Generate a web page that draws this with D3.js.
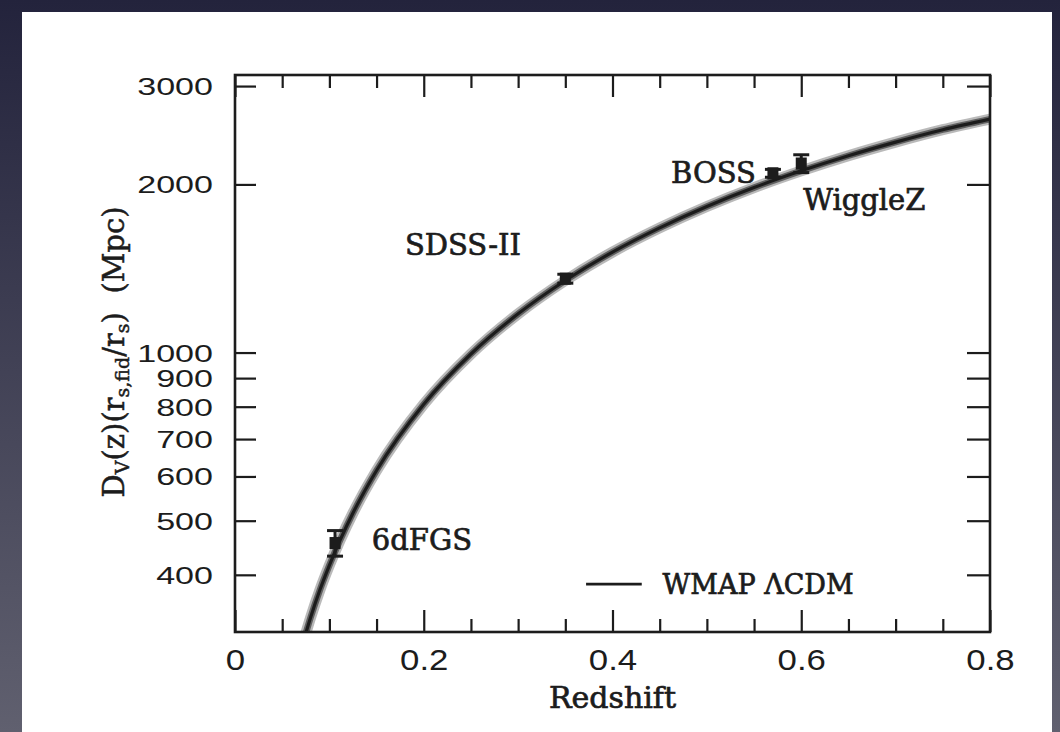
<!DOCTYPE html>
<html>
<head>
<meta charset="utf-8">
<script src="https://cdn.jsdelivr.net/npm/d3@7"></script>
<style>
  html, body { margin: 0; padding: 0; }
  body { width: 1060px; height: 732px; overflow: hidden; }
  svg { display: block; }
</style>
</head>
<body>
<svg id="chart" width="1060" height="732"></svg>
<script>
// WMAP LCDM prediction of D_V(z) (Mpc)
const modelZ  = [0.07, 0.08, 0.09, 0.10, 0.125, 0.15, 0.20, 0.25, 0.30, 0.35, 0.40, 0.45, 0.50, 0.55, 0.60, 0.65, 0.70, 0.75, 0.80];
const modelDv = [294, 335, 376, 416, 516, 615, 808, 994, 1173, 1346, 1513, 1672, 1826, 1974, 2115, 2251, 2381, 2506, 2618];

// BAO measurements
const surveys   = ["6dFGS", "SDSS-II", "BOSS", "WiggleZ"];
const surveyZ   = [0.106, 0.35, 0.57, 0.60];
const surveyDv  = [456, 1356, 2094, 2180];
const surveyErr = [24, 25, 34, 80];

// axis ticks
const xMajorTicks = [0, 0.2, 0.4, 0.6, 0.8];
const xMinorTicks = [0.05, 0.1, 0.15, 0.25, 0.3, 0.35, 0.45, 0.5, 0.55, 0.65, 0.7, 0.75];
const yTicks = [400, 500, 600, 700, 800, 900, 1000, 2000, 3000];

const xTitle = "Redshift";
const legendLabel = "WMAP \u039BCDM";

const svg = d3.select("#chart");

// backdrop and white sheet
const defs = svg.append("defs");
const grad = defs.append("linearGradient").attr("id", "bg").attr("x1", 0).attr("y1", 0).attr("x2", 0).attr("y2", 1);
grad.append("stop").attr("offset", "0%").attr("stop-color", "#23233c");
grad.append("stop").attr("offset", "100%").attr("stop-color", "#60606f");
svg.append("rect").attr("width", 1060).attr("height", 732).attr("fill", "url(#bg)");
svg.append("rect").attr("x", 22).attr("y", 12).attr("width", 1030).attr("height", 730).attr("fill", "#ffffff");

const plot = { left: 235, right: 990, top: 75, bottom: 632 };

const x = d3.scaleLinear().domain([0, 0.8]).range([plot.left, plot.right]);
const y = d3.scaleLog().domain([316, 3140]).range([plot.bottom, plot.top]);

const ink = "#1c1c1c";
const sans = "'Liberation Sans', Arial, sans-serif";
const serif = "'DejaVu Serif', serif";

defs.append("clipPath").attr("id", "plotclip")
  .append("rect").attr("x", plot.left).attr("y", plot.top)
  .attr("width", plot.right - plot.left).attr("height", plot.bottom - plot.top);

// model curve: soft grey band with a dark core
const line = d3.line().x((d, i) => x(modelZ[i])).y(d => y(d)).curve(d3.curveMonotoneX);
const curveG = svg.append("g").attr("clip-path", "url(#plotclip)");
curveG.append("path").attr("d", line(modelDv)).attr("fill", "none")
  .attr("stroke", "#8c8c8c").attr("stroke-width", 11).attr("stroke-opacity", 0.6);
curveG.append("path").attr("d", line(modelDv)).attr("fill", "none")
  .attr("stroke", "#4a4a4a").attr("stroke-width", 6.5).attr("stroke-opacity", 0.8);
curveG.append("path").attr("d", line(modelDv)).attr("fill", "none")
  .attr("stroke", ink).attr("stroke-width", 3.2);

// axes
function styleAxis(g) {
  g.select(".domain").remove();
  g.selectAll(".tick line").attr("stroke", ink).attr("stroke-width", 2.2);
}

svg.append("g").attr("transform", `translate(0,${plot.bottom})`)
  .call(d3.axisBottom(x).tickValues(xMinorTicks).tickSize(-13).tickFormat(""))
  .call(styleAxis);
const xb = svg.append("g").attr("transform", `translate(0,${plot.bottom})`)
  .call(d3.axisBottom(x).tickValues(xMajorTicks).tickSize(-22).tickPadding(0).tickFormat(d => d === 0 ? "0" : d3.format(".1f")(d)))
  .call(styleAxis);
xb.selectAll(".tick text")
  .attr("y", null).attr("dy", null)
  .attr("transform", "translate(0,38) scale(1.16,1)")
  .attr("fill", ink).style("font-family", sans).style("font-size", "30px");

svg.append("g").attr("transform", `translate(0,${plot.top})`)
  .call(d3.axisTop(x).tickValues(xMinorTicks).tickSize(-13).tickFormat(""))
  .call(styleAxis);
svg.append("g").attr("transform", `translate(0,${plot.top})`)
  .call(d3.axisTop(x).tickValues(xMajorTicks).tickSize(-22).tickFormat(""))
  .call(styleAxis);

const yl = svg.append("g").attr("transform", `translate(${plot.left},0)`)
  .call(d3.axisLeft(y).tickValues(yTicks).tickSize(-21).tickFormat(d3.format("d")))
  .call(styleAxis);
yl.selectAll(".tick text")
  .attr("x", null).attr("dy", null)
  .attr("transform", "translate(-22,8.5) scale(1.42,1)")
  .attr("fill", ink).style("font-family", sans).style("font-size", "24px");

svg.append("g").attr("transform", `translate(${plot.right},0)`)
  .call(d3.axisRight(y).tickValues(yTicks).tickSize(-23).tickFormat(""))
  .call(styleAxis);

// frame
svg.append("rect").attr("x", plot.left).attr("y", plot.top)
  .attr("width", plot.right - plot.left).attr("height", plot.bottom - plot.top)
  .attr("fill", "none").attr("stroke", ink).attr("stroke-width", 2.6);

// measurements with error bars
const pts = svg.append("g");
surveys.forEach((name, i) => {
  const cx = x(surveyZ[i]);
  const yHi = y(surveyDv[i] + surveyErr[i]);
  const yLo = y(surveyDv[i] - surveyErr[i]);
  const cy = y(surveyDv[i]);
  const g = pts.append("g");
  g.append("line").attr("x1", cx).attr("x2", cx).attr("y1", yHi).attr("y2", yLo)
    .attr("stroke", ink).attr("stroke-width", 3);
  [yHi, yLo].forEach(v => g.append("line")
    .attr("x1", cx - 8).attr("x2", cx + 8).attr("y1", v).attr("y2", v)
    .attr("stroke", ink).attr("stroke-width", 3));
  g.append("rect").attr("x", cx - 5.5).attr("y", cy - 6).attr("width", 11).attr("height", 12).attr("fill", ink);
});

// survey labels
const labelPos = {
  "6dFGS":   { z: 0.145, v: 462, anchor: "start" },
  "SDSS-II": { z: 0.18,  v: 1560, anchor: "start" },
  "BOSS":    { z: 0.552, v: 2100, anchor: "end" },
  "WiggleZ": { z: 0.602, v: 1880, anchor: "start" }
};
surveys.forEach(name => {
  const p = labelPos[name];
  svg.append("text").attr("x", x(p.z)).attr("y", y(p.v)).attr("dy", "0.36em")
    .attr("text-anchor", p.anchor).attr("fill", ink)
    .attr("stroke", ink).attr("stroke-width", 0.7)
    .style("font-family", serif).style("font-size", "29px")
    .text(name);
});

// legend
const legY = y(385);
svg.append("line").attr("x1", x(0.372)).attr("x2", x(0.431)).attr("y1", legY).attr("y2", legY)
  .attr("stroke", ink).attr("stroke-width", 2.6);
svg.append("text").attr("x", x(0.453)).attr("y", legY).attr("dy", "0.36em")
  .attr("fill", ink).attr("stroke", ink).attr("stroke-width", 0.7)
  .style("font-family", serif).style("font-size", "27px")
  .text(legendLabel);

// axis titles
svg.append("text").attr("x", x(0.4)).attr("y", 708).attr("text-anchor", "middle")
  .attr("fill", ink).attr("stroke", ink).attr("stroke-width", 0.7)
  .style("font-family", serif).style("font-size", "30px")
  .text(xTitle);

const yt = svg.append("text").attr("transform", "translate(124,352) rotate(-90)")
  .attr("text-anchor", "middle").attr("fill", ink).attr("stroke", ink).attr("stroke-width", 0.5)
  .style("font-family", serif).style("font-size", "29px");
yt.append("tspan").text("D");
yt.append("tspan").attr("baseline-shift", "-25%").style("font-size", "19px").text("V");
yt.append("tspan").text("(z)(r");
yt.append("tspan").attr("baseline-shift", "-25%").style("font-size", "19px").text("s,fid");
yt.append("tspan").text("/r");
yt.append("tspan").attr("baseline-shift", "-25%").style("font-size", "19px").text("s");
yt.append("tspan").text(")\u00A0\u00A0(Mpc)");
</script>
</body>
</html>
